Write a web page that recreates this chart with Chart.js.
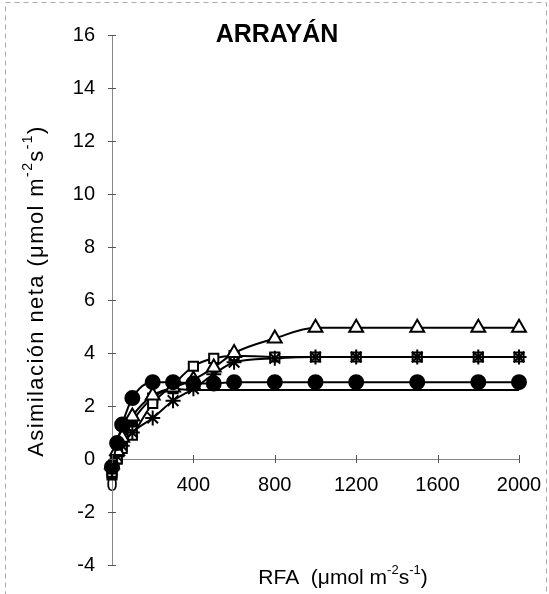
<!DOCTYPE html>
<html>
<head>
<meta charset="utf-8">
<title>Arrayán</title>
<script src="https://cdn.jsdelivr.net/npm/chart.js@4.4.0/dist/chart.umd.min.js"></script>
<style>
  html, body { margin: 0; padding: 0; background: #fff; }
  canvas { display: block; }
</style>
</head>
<body>
<canvas id="curve" width="549" height="594"></canvas>
<script>
// light response curves, net assimilation vs PAR
const par = [0, 25, 50, 100, 200, 300, 400, 500, 600, 800, 1000, 1200, 1500, 1800, 2000];

const circles   = [-0.3, 0.6, 1.3, 2.3, 2.9, 2.9, 2.85, 2.85, 2.9, 2.9, 2.9, 2.9, 2.9, 2.9, 2.9];
const triangles = [-0.2, 0.3, 0.8, 1.6, 2.4, 2.7, 3.0, 3.45, 4.0, 4.55, 4.95, 4.95, 4.95, 4.95, 4.95];
const stars     = [-0.4, 0.1, 0.5, 1.0, 1.55, 2.2, 2.65, 3.2, 3.65, 3.8, 3.85, 3.85, 3.85, 3.85, 3.85];
const openSq    = [-0.5, 0.0, 0.4, 0.9, 2.1, 2.8, 3.5, 3.8, 3.9, 3.85, 3.85, 3.85, 3.85, 3.85, 3.85];
const filledSq  = [-0.6, 0.0, 0.6, 1.4, 2.3, 2.65, 2.6, 2.6, 2.6, 2.6, 2.6, 2.6, 2.6, 2.6, 2.6];

const xTicks = [0, 400, 800, 1200, 1600, 2000];
const yTicks = [-4, -2, 0, 2, 4, 6, 8, 10, 12, 14, 16];

const FONT = 'Liberation Sans, Arial, sans-serif';

function pts(ys) {
  return par.map((x, i) => ({ x: x, y: ys[i] }));
}

function series(ys, style, radius, fill) {
  return {
    data: pts(ys),
    borderColor: '#000',
    borderWidth: 2,
    pointStyle: style,
    pointRadius: radius,
    pointBorderWidth: 2,
    pointBorderColor: '#000',
    pointBackgroundColor: fill,
    cubicInterpolationMode: 'monotone',
    clip: false,
    fill: false
  };
}

// draws a string with superscript parts, centred on (x, y)
function richText(ctx, parts, x, y, size, spacing) {
  const big = size + 'px ' + FONT;
  const small = Math.round(size * 0.62) + 'px ' + FONT;
  ctx.letterSpacing = (spacing || 0) + 'px';
  let total = 0;
  parts.forEach(p => {
    ctx.font = p.sup ? small : big;
    p.w = ctx.measureText(p.t).width;
    total += p.w;
  });
  let cx = x - total / 2;
  ctx.textBaseline = 'middle';
  ctx.textAlign = 'left';
  parts.forEach(p => {
    ctx.font = p.sup ? small : big;
    ctx.fillText(p.t, cx, p.sup ? y - size * 0.38 : y);
    cx += p.w;
  });
  ctx.letterSpacing = '0px';
}

const decor = {
  id: 'decor',
  beforeDraw(chart) {
    const ctx = chart.ctx;
    ctx.save();
    ctx.fillStyle = '#fff';
    ctx.fillRect(0, 0, chart.width, chart.height);
    // outer frame
    ctx.strokeStyle = '#aaa';
    ctx.lineWidth = 1;
    ctx.setLineDash([5, 4]);
    ctx.strokeRect(5.5, 2.5, 541, 620);
    ctx.restore();
  },
  afterDraw(chart) {
    const ctx = chart.ctx;
    const xs = chart.scales.x, ys = chart.scales.y;
    const ax = ys.left + ys.width;
    const y0 = ys.getPixelForValue(0);
    ctx.save();
    // cross tick marks
    ctx.strokeStyle = '#555';
    ctx.lineWidth = 1;
    yTicks.forEach(v => {
      const py = Math.round(ys.getPixelForValue(v)) + 0.5;
      ctx.beginPath();
      ctx.moveTo(ax - 4, py);
      ctx.lineTo(ax + 4, py);
      ctx.stroke();
    });
    xTicks.forEach(v => {
      const px = Math.round(xs.getPixelForValue(v)) + 0.5;
      ctx.beginPath();
      ctx.moveTo(px, y0 - 4);
      ctx.lineTo(px, y0 + 4);
      ctx.stroke();
    });
    // titles
    ctx.fillStyle = '#000';
    ctx.font = 'bold 25px ' + FONT;
    ctx.textAlign = 'center';
    ctx.textBaseline = 'middle';
    ctx.fillText('ARRAYÁN', 277, 35);

    richText(ctx, [
      { t: 'RFA  (μmol m' }, { t: '-2', sup: true }, { t: 's' }, { t: '-1', sup: true }, { t: ')' }
    ], 343, 578, 21, 0);

    ctx.translate(37, 291);
    ctx.rotate(-Math.PI / 2);
    richText(ctx, [
      { t: 'Asimilación neta (μmol m' }, { t: '-2', sup: true }, { t: 's' }, { t: '-1', sup: true }, { t: ')' }
    ], 0, 0, 22, 1.4);
    ctx.restore();
  }
};

const squaresFilled = series(filledSq, 'rect', 6.5, '#000');
squaresFilled.pointRadius = c => (c.raw && c.raw.x <= 300 ? 6.5 : 0);

new Chart(document.getElementById('curve'), {
  type: 'line',
  data: {
    datasets: [
      series(circles, 'circle', 7, '#000'),
      series(triangles, 'triangle', 8, '#fff'),
      series(stars, 'star', 7.5, '#fff'),
      series(openSq, 'rect', 6.5, '#fff'),
      squaresFilled
    ]
  },
  options: {
    responsive: false,
    animation: false,
    layout: { padding: { left: 0, right: 30, top: 35, bottom: 19 } },
    plugins: { legend: { display: false }, tooltip: { enabled: false } },
    scales: {
      x: {
        type: 'linear',
        position: { y: 0 },
        min: 0,
        max: 2000,
        afterBuildTicks: s => { s.ticks = xTicks.map(v => ({ value: v })); },
        afterFit: s => { s.paddingLeft = 0; s.paddingRight = 0; },
        ticks: {
          color: '#000', font: { family: FONT, size: 20 }, padding: 14, maxRotation: 0, autoSkip: false,
          callback: v => String(v)
        },
        grid: { display: false, drawTicks: false },
        border: { display: true, color: '#888', width: 1, dash: [5, 3] }
      },
      y: {
        type: 'linear',
        min: -4,
        max: 16,
        afterBuildTicks: s => { s.ticks = yTicks.map(v => ({ value: v })); },
        afterFit: s => { s.width = 112; },
        ticks: {
          color: '#000', font: { family: FONT, size: 20 }, padding: 17, autoSkip: false,
          callback: v => String(v)
        },
        grid: { display: false, drawTicks: false },
        border: { display: true, color: '#888', width: 1, dash: [5, 3] }
      }
    }
  },
  plugins: [decor]
});
</script>
</body>
</html>
